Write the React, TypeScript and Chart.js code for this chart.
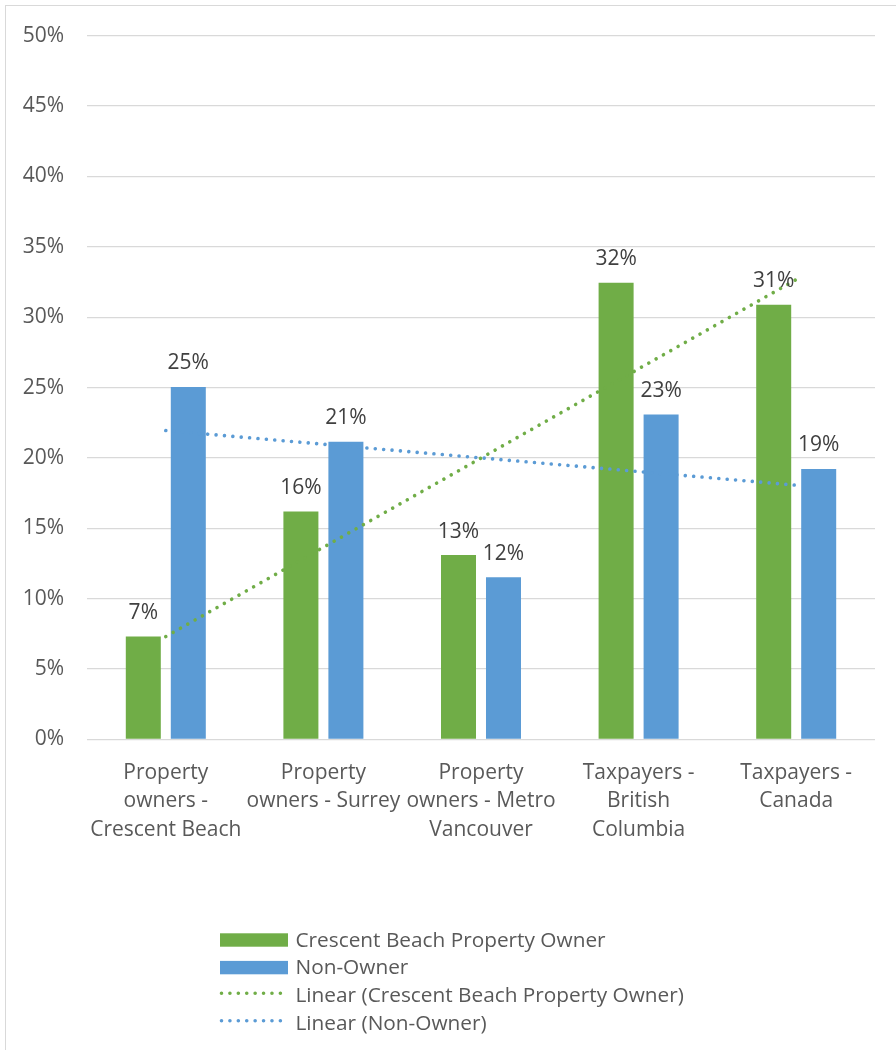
import React, { useEffect, useRef } from "react";
import { Chart, registerables } from "chart.js";

Chart.register(...registerables);

const categories: string[][] = [
  ["Property", "owners -", "Crescent Beach"],
  ["Property", "owners - Surrey"],
  ["Property", "owners - Metro", "Vancouver"],
  ["Taxpayers -", "British", "Columbia"],
  ["Taxpayers -", "Canada"],
];
const ownerValues = [7.32, 16.2, 13.1, 32.45, 30.89];
const nonOwnerValues = [25.04, 21.15, 11.53, 23.08, 19.22];
const seriesNames = ["Crescent Beach Property Owner", "Non-Owner"];
const trendNames = ["Linear (Crescent Beach Property Owner)", "Linear (Non-Owner)"];
const yMin = 0;
const yMax = 50;
const yStep = 5;

const GREEN = "#70AD47";
const BLUE = "#5B9BD5";
const FONT = "'Open Sans', 'DejaVu Sans', sans-serif";

function linearTrend(values: number[]): number[] {
  const n = values.length;
  const xs = values.map((_, i) => i + 1);
  const mx = xs.reduce((a, b) => a + b, 0) / n;
  const my = values.reduce((a, b) => a + b, 0) / n;
  let num = 0;
  let den = 0;
  for (let i = 0; i < n; i++) {
    num += (xs[i] - mx) * (values[i] - my);
    den += (xs[i] - mx) * (xs[i] - mx);
  }
  const slope = num / den;
  const intercept = my - slope * mx;
  return xs.map((x) => intercept + slope * x);
}

const dataLabelPlugin = {
  id: "dataLabels",
  afterDatasetsDraw(chart: any) {
    const ctx = chart.ctx;
    ctx.save();
    ctx.font = `21px ${FONT}`;
    ctx.fillStyle = "#404040";
    ctx.textAlign = "center";
    ctx.textBaseline = "alphabetic";
    chart.data.datasets.forEach((ds: any, di: number) => {
      if (ds.type !== "bar") return;
      const meta = chart.getDatasetMeta(di);
      meta.data.forEach((el: any, i: number) => {
        const v = ds.data[i];
        ctx.fillText(Math.round(v) + "%", el.x, el.y - 17.5);
      });
    });
    ctx.restore();
  },
};

const legendPlugin = {
  id: "customLegend",
  afterDraw(chart: any) {
    const ctx = chart.ctx;
    ctx.save();
    const items = [
      { label: seriesNames[0], color: GREEN, kind: "box" },
      { label: seriesNames[1], color: BLUE, kind: "box" },
      { label: trendNames[0], color: GREEN, kind: "dots" },
      { label: trendNames[1], color: BLUE, kind: "dots" },
    ];
    const x0 = 220;
    const x1 = 288;
    const rowTop = 940;
    const rowGap = 27.6;
    items.forEach((it, i) => {
      const cy = rowTop + i * rowGap;
      if (it.kind === "box") {
        ctx.fillStyle = it.color;
        ctx.fillRect(x0, cy - 6.7, x1 - x0, 13.4);
      } else {
        ctx.strokeStyle = it.color;
        ctx.lineWidth = 3.6;
        ctx.lineCap = "round";
        ctx.setLineDash([0.01, 8.4]);
        ctx.beginPath();
        ctx.moveTo(x0 + 1.5, cy - 2);
        ctx.lineTo(x1, cy - 2);
        ctx.stroke();
        ctx.setLineDash([]);
      }
      ctx.fillStyle = "#595959";
      ctx.font = `20.8px ${FONT}`;
      ctx.textAlign = "left";
      ctx.textBaseline = "alphabetic";
      ctx.fillText(it.label, 295.5, cy + 6.8);
    });
    ctx.restore();
  },
};

export default function App() {
  const canvasRef = useRef<HTMLCanvasElement | null>(null);

  useEffect(() => {
    if (!canvasRef.current) return;
    const trendOwner = linearTrend(ownerValues);
    const trendNon = linearTrend(nonOwnerValues);
    const dotted = {
      type: "line" as const,
      borderWidth: 3.6,
      borderDash: [0.01, 8.4],
      borderCapStyle: "round" as const,
      pointRadius: 0,
      fill: false,
      tension: 0,
      order: 0,
    };
    const chart = new Chart(canvasRef.current, {
      type: "bar",
      data: {
        labels: categories,
        datasets: [
          {
            type: "bar",
            label: seriesNames[0],
            data: ownerValues,
            backgroundColor: GREEN,
            order: 1,
          },
          {
            type: "bar",
            label: seriesNames[1],
            data: nonOwnerValues,
            backgroundColor: BLUE,
            order: 1,
          },
          { ...dotted, label: trendNames[0], data: trendOwner, borderColor: GREEN },
          { ...dotted, label: trendNames[1], data: trendNon, borderColor: BLUE },
        ] as any,
      },
      options: {
        responsive: false,
        animation: false,
        devicePixelRatio: 1,
        layout: { padding: { left: 0, top: 35, right: 21, bottom: 170.5 } },
        datasets: {
          bar: { categoryPercentage: 0.571, barPercentage: 0.778 },
        },
        plugins: {
          legend: { display: false },
          tooltip: { enabled: false },
          title: { display: false },
        },
        scales: {
          x: {
            grid: { display: false },
            border: { display: false },
            ticks: {
              color: "#595959",
              font: { family: FONT, size: 21, lineHeight: 1.35 },
              padding: 11.3,
              maxRotation: 0,
              autoSkip: false,
            },
            afterFit: (scale: any) => {
              scale.height = 140;
            },
          },
          y: {
            min: yMin,
            max: yMax,
            border: { display: false },
            grid: { color: "#d9d9d9", lineWidth: 1.3, drawTicks: false },
            ticks: {
              stepSize: yStep,
              color: "#595959",
              font: { family: FONT, size: 21 },
              padding: 23,
              callback: (v: any) => v + "%",
            },
            afterFit: (scale: any) => {
              scale.width = 87;
            },
          },
        },
      },
      plugins: [dataLabelPlugin, legendPlugin],
    });
    return () => chart.destroy();
  }, []);

  return (
    <div
      style={{
        position: "fixed",
        left: 0,
        top: 0,
        width: 896,
        height: 1050,
        background: "#ffffff",
        overflow: "hidden",
      }}
    >
      <div
        style={{
          position: "absolute",
          left: 5,
          top: 5,
          width: 900,
          height: 1060,
          borderLeft: "1.5px solid #d9d9d9",
          borderTop: "1.5px solid #d9d9d9",
          boxSizing: "border-box",
        }}
      />
      <canvas
        ref={canvasRef}
        width={896}
        height={1050}
        style={{ position: "absolute", left: 0, top: 0, width: 896, height: 1050 }}
      />
    </div>
  );
}
